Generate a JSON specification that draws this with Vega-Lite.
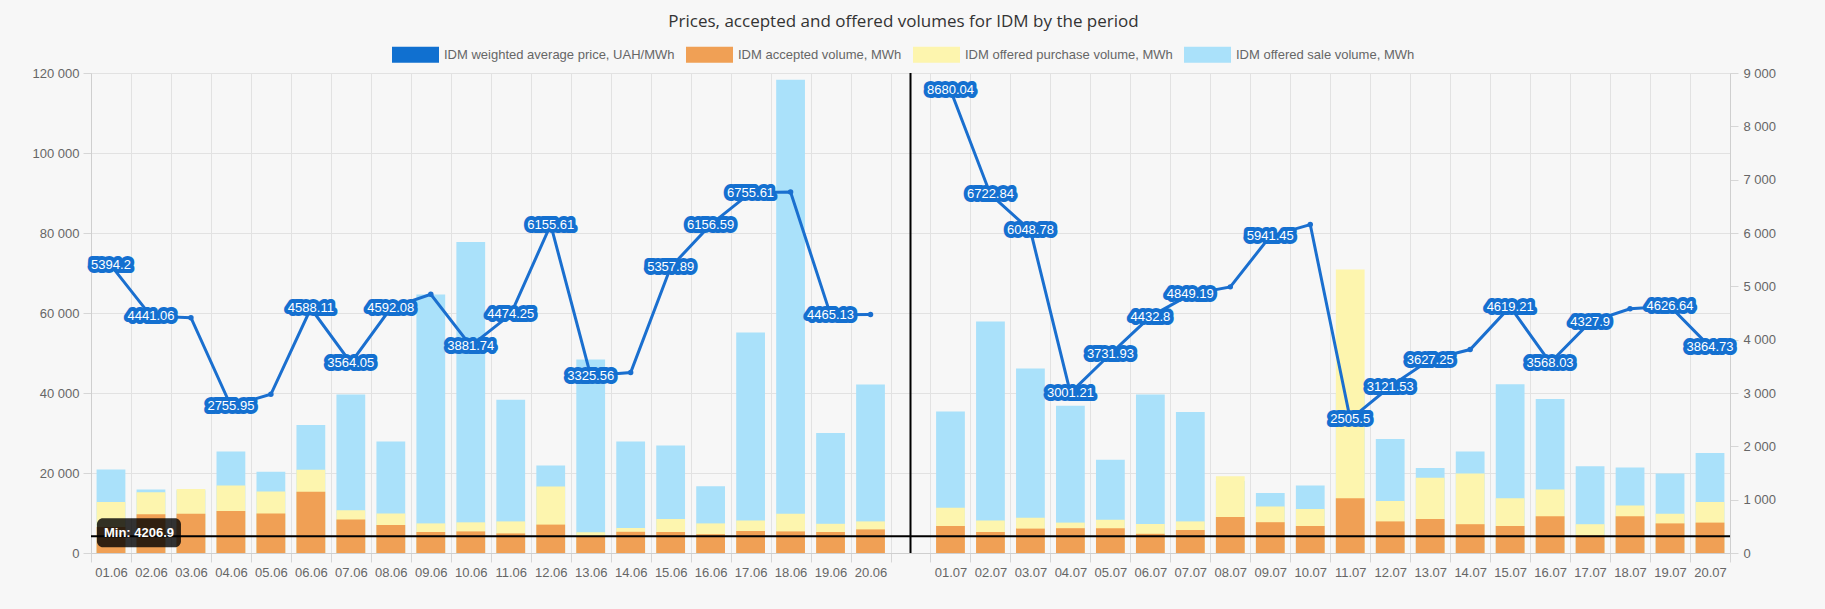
{
  "$schema": "https://vega.github.io/schema/vega-lite/v6.json",
  "width": 1639,
  "height": 480,
  "autosize": {"type": "none"},
  "padding": {"left": 91, "top": 73, "right": 95, "bottom": 56},
  "background": "#f7f7f7",
  "title": {
    "text": "Prices, accepted and offered volumes for IDM by the period",
    "font": "Open Sans",
    "fontSize": 17,
    "fontWeight": "normal",
    "color": "#333",
    "anchor": "middle",
    "dx": -7,
    "offset": 0
  },
  "data": {
    "values": [
      {"date": "01.06", "period": "June", "sale": 20900, "purchase": 12750, "accepted": 6500, "price": 5394.2},
      {"date": "02.06", "period": "June", "sale": 15900, "purchase": 15200, "accepted": 9670, "price": 4441.06},
      {"date": "03.06", "period": "June", "sale": 15700, "purchase": 16000, "accepted": 9830, "price": 4413},
      {"date": "04.06", "period": "June", "sale": 25400, "purchase": 16900, "accepted": 10500, "price": 2755.95},
      {"date": "05.06", "period": "June", "sale": 20300, "purchase": 15400, "accepted": 9900, "price": 2976},
      {"date": "06.06", "period": "June", "sale": 32000, "purchase": 20800, "accepted": 15300, "price": 4588.11},
      {"date": "07.06", "period": "June", "sale": 39600, "purchase": 10700, "accepted": 8400, "price": 3564.05},
      {"date": "08.06", "period": "June", "sale": 27900, "purchase": 9900, "accepted": 7000, "price": 4592.08},
      {"date": "09.06", "period": "June", "sale": 64600, "purchase": 7400, "accepted": 5250, "price": 4851},
      {"date": "10.06", "period": "June", "sale": 77750, "purchase": 7670, "accepted": 5400, "price": 3881.74},
      {"date": "11.06", "period": "June", "sale": 38300, "purchase": 7900, "accepted": 4900, "price": 4474.25},
      {"date": "12.06", "period": "June", "sale": 21900, "purchase": 16600, "accepted": 7100, "price": 6155.61},
      {"date": "13.06", "period": "June", "sale": 48400, "purchase": 5200, "accepted": 4200, "price": 3325.56},
      {"date": "14.06", "period": "June", "sale": 27900, "purchase": 6250, "accepted": 5300, "price": 3383},
      {"date": "15.06", "period": "June", "sale": 26900, "purchase": 8500, "accepted": 5250, "price": 5357.89},
      {"date": "16.06", "period": "June", "sale": 16700, "purchase": 7400, "accepted": 4700, "price": 6156.59},
      {"date": "17.06", "period": "June", "sale": 55100, "purchase": 8100, "accepted": 5500, "price": 6755.61},
      {"date": "18.06", "period": "June", "sale": 118300, "purchase": 9800, "accepted": 5400, "price": 6770},
      {"date": "19.06", "period": "June", "sale": 30000, "purchase": 7300, "accepted": 5250, "price": 4465.13},
      {"date": "20.06", "period": "June", "sale": 42100, "purchase": 7900, "accepted": 5900, "price": 4470},
      {"date": "01.07", "period": "July", "sale": 35400, "purchase": 11300, "accepted": 6750, "price": 8680.04},
      {"date": "02.07", "period": "July", "sale": 57900, "purchase": 8100, "accepted": 5250, "price": 6722.84},
      {"date": "03.07", "period": "July", "sale": 46100, "purchase": 8800, "accepted": 6100, "price": 6048.78},
      {"date": "04.07", "period": "July", "sale": 36800, "purchase": 7600, "accepted": 6200, "price": 3001.21},
      {"date": "05.07", "period": "July", "sale": 23300, "purchase": 8300, "accepted": 6200, "price": 3731.93},
      {"date": "06.07", "period": "July", "sale": 39600, "purchase": 7250, "accepted": 4800, "price": 4432.8},
      {"date": "07.07", "period": "July", "sale": 35250, "purchase": 7900, "accepted": 5750, "price": 4849.19},
      {"date": "08.07", "period": "July", "sale": 18000, "purchase": 19200, "accepted": 9000, "price": 4990},
      {"date": "09.07", "period": "July", "sale": 15000, "purchase": 11600, "accepted": 7700, "price": 5941.45},
      {"date": "10.07", "period": "July", "sale": 16900, "purchase": 11000, "accepted": 6750, "price": 6158},
      {"date": "11.07", "period": "July", "sale": 40000, "purchase": 70900, "accepted": 13700, "price": 2505.5},
      {"date": "12.07", "period": "July", "sale": 28500, "purchase": 13000, "accepted": 7900, "price": 3121.53},
      {"date": "13.07", "period": "July", "sale": 21250, "purchase": 18800, "accepted": 8500, "price": 3627.25},
      {"date": "14.07", "period": "July", "sale": 25400, "purchase": 19900, "accepted": 7200, "price": 3815},
      {"date": "15.07", "period": "July", "sale": 42200, "purchase": 13700, "accepted": 6750, "price": 4619.21},
      {"date": "16.07", "period": "July", "sale": 38500, "purchase": 15900, "accepted": 9200, "price": 3568.03},
      {"date": "17.07", "period": "July", "sale": 21700, "purchase": 7200, "accepted": 4400, "price": 4327.9},
      {"date": "18.07", "period": "July", "sale": 21400, "purchase": 11900, "accepted": 9200, "price": 4579},
      {"date": "19.07", "period": "July", "sale": 19900, "purchase": 9800, "accepted": 7400, "price": 4626.64},
      {"date": "20.07", "period": "July", "sale": 25000, "purchase": 12750, "accepted": 7600, "price": 3864.73}
    ]
  },
  "layer": [
    {
      "layer": [
        {
          "mark": {"type": "bar", "width": {"band": 0.72}},
          "encoding": {
            "x": {
              "field": "date",
              "type": "nominal",
              "sort": null,
              "scale": {
                "domain": ["01.06", "02.06", "03.06", "04.06", "05.06", "06.06", "07.06", "08.06", "09.06", "10.06", "11.06", "12.06", "13.06", "14.06", "15.06", "16.06", "17.06", "18.06", "19.06", "20.06", " ", "01.07", "02.07", "03.07", "04.07", "05.07", "06.07", "07.07", "08.07", "09.07", "10.07", "11.07", "12.07", "13.07", "14.07", "15.07", "16.07", "17.07", "18.07", "19.07", "20.07"],
                "paddingInner": 0,
                "paddingOuter": 0
              },
              "axis": {
                "title": null,
                "labelAngle": 0,
                "tickBand": "extent",
                "grid": true,
                "gridColor": "#e2e2e2",
                "tickColor": "#d6d6d6",
                "tickSize": 9,
                "domainColor": "#cfcfcf",
                "labelColor": "#666",
                "labelFont": "Liberation Sans",
                "labelFontSize": 13,
                "labelPadding": 4
              }
            },
            "y": {
              "field": "sale",
              "type": "quantitative",
              "scale": {"domain": [0, 120000], "nice": false},
              "axis": {
                "orient": "left",
                "title": null,
                "values": [0, 20000, 40000, 60000, 80000, 100000, 120000],
                "labelExpr": "replace(format(datum.value, ','), ',', ' ')",
                "grid": true,
                "gridColor": "#e2e2e2",
                "tickColor": "#d6d6d6",
                "tickSize": 8,
                "labelPadding": 4,
                "domainColor": "#cfcfcf",
                "labelColor": "#666",
                "labelFont": "Liberation Sans",
                "labelFontSize": 13
              }
            },
            "color": {
              "datum": "IDM offered sale volume, MWh",
              "scale": {
                "domain": ["IDM weighted average price, UAH/MWh", "IDM accepted volume, MWh", "IDM offered purchase volume, MWh", "IDM offered sale volume, MWh"],
                "range": ["#1070D0", "#F0A055", "#FDF5AE", "#AAE1FA"]
              },
              "legend": {
                "orient": "none",
                "legendX": 301,
                "legendY": -42,
                "direction": "horizontal",
                "title": null,
                "symbolType": "M-1,-0.34H1V0.34H-1Z",
                "symbolSize": 2209,
                "symbolStrokeWidth": 0,
                "symbolOpacity": 1,
                "labelFont": "Liberation Sans",
                "labelFontSize": 13,
                "labelColor": "#666",
                "labelLimit": 400,
                "labelOffset": 5,
                "columnPadding": 11
              }
            }
          }
        },
        {
          "mark": {"type": "bar", "width": {"band": 0.72}},
          "encoding": {
            "x": {"field": "date", "type": "nominal", "sort": null},
            "y": {"field": "purchase", "type": "quantitative"},
            "color": {"datum": "IDM offered purchase volume, MWh"}
          }
        },
        {
          "mark": {"type": "bar", "width": {"band": 0.72}},
          "encoding": {
            "x": {"field": "date", "type": "nominal", "sort": null},
            "y": {"field": "accepted", "type": "quantitative"},
            "color": {"datum": "IDM accepted volume, MWh"}
          }
        },
        {
          "data": {"values": [{"gap": " "}]},
          "mark": {"type": "rule", "color": "#000", "strokeWidth": 2},
          "encoding": {"x": {"field": "gap", "type": "nominal"}}
        },
        {
          "data": {"values": [{"min": 4206.9, "label": "Min: 4206.9"}]},
          "mark": {"type": "rule", "color": "#000", "strokeWidth": 2},
          "encoding": {"y": {"field": "min", "type": "quantitative"}}
        },
        {
          "data": {"values": [{"min": 4206.9, "label": "Min: 4206.9", "at": "02.06"}]},
          "mark": {
            "type": "point",
            "shape": "M-0.857,-0.345H0.857A0.143,0.143 0 0 1 1,-0.202V0.202A0.143,0.143 0 0 1 0.857,0.345H-0.857A0.143,0.143 0 0 1 -1,0.202V-0.202A0.143,0.143 0 0 1 -0.857,-0.345Z",
            "size": 7056,
            "filled": true,
            "color": "#000",
            "opacity": 0.8,
            "xOffset": -12,
            "yOffset": -3.5
          },
          "encoding": {
            "x": {"field": "at", "type": "nominal"},
            "y": {"field": "min", "type": "quantitative"}
          }
        },
        {
          "data": {"values": [{"min": 4206.9, "label": "Min: 4206.9", "at": "01.06"}]},
          "mark": {
            "type": "text",
            "align": "left",
            "baseline": "middle",
            "dx": -7,
            "dy": -3.5,
            "font": "Liberation Sans",
            "fontSize": 13,
            "fontWeight": "bold",
            "color": "#fff"
          },
          "encoding": {
            "x": {"field": "at", "type": "nominal"},
            "y": {"field": "min", "type": "quantitative"},
            "text": {"field": "label", "type": "nominal"}
          }
        }
      ]
    },
    {
      "layer": [
        {
          "mark": {"type": "line", "color": "#1A6FCF", "strokeWidth": 3},
          "encoding": {
            "x": {"field": "date", "type": "nominal", "sort": null},
            "y": {
              "field": "price",
              "type": "quantitative",
              "scale": {"domain": [0, 9000], "nice": false},
              "axis": {
                "orient": "right",
                "title": null,
                "values": [0, 1000, 2000, 3000, 4000, 5000, 6000, 7000, 8000, 9000],
                "labelExpr": "replace(format(datum.value, ','), ',', ' ')",
                "grid": false,
                "tickColor": "#d6d6d6",
                "tickSize": 8,
                "labelPadding": 5,
                "domainColor": "#cfcfcf",
                "labelColor": "#666",
                "labelFont": "Liberation Sans",
                "labelFontSize": 13
              }
            },
            "detail": {"field": "period", "type": "nominal"}
          }
        },
        {
          "mark": {"type": "point", "filled": true, "size": 30, "color": "#1A6FCF", "opacity": 1},
          "encoding": {
            "x": {"field": "date", "type": "nominal", "sort": null},
            "y": {"field": "price", "type": "quantitative"}
          }
        },
        {
          "transform": [{"filter": {"not": {"field": "date", "oneOf": ["03.06", "05.06", "09.06", "14.06", "18.06", "20.06", "08.07", "10.07", "14.07", "18.07"]}}}],
          "mark": {
            "type": "text",
            "baseline": "middle",
            "font": "Liberation Sans",
            "fontSize": 13,
            "fill": "#1470D0",
            "stroke": "#1470D0",
            "strokeWidth": 8,
            "strokeJoin": "round"
          },
          "encoding": {
            "x": {"field": "date", "type": "nominal", "sort": null},
            "y": {"field": "price", "type": "quantitative"},
            "text": {"field": "price", "type": "nominal"}
          }
        },
        {
          "transform": [{"filter": {"not": {"field": "date", "oneOf": ["03.06", "05.06", "09.06", "14.06", "18.06", "20.06", "08.07", "10.07", "14.07", "18.07"]}}}],
          "mark": {
            "type": "text",
            "baseline": "middle",
            "font": "Liberation Sans",
            "fontSize": 13,
            "color": "#fff"
          },
          "encoding": {
            "x": {"field": "date", "type": "nominal", "sort": null},
            "y": {"field": "price", "type": "quantitative"},
            "text": {"field": "price", "type": "nominal"}
          }
        }
      ]
    }
  ],
  "resolve": {"scale": {"y": "independent"}},
  "config": {
    "view": {"stroke": null}
  }
}
